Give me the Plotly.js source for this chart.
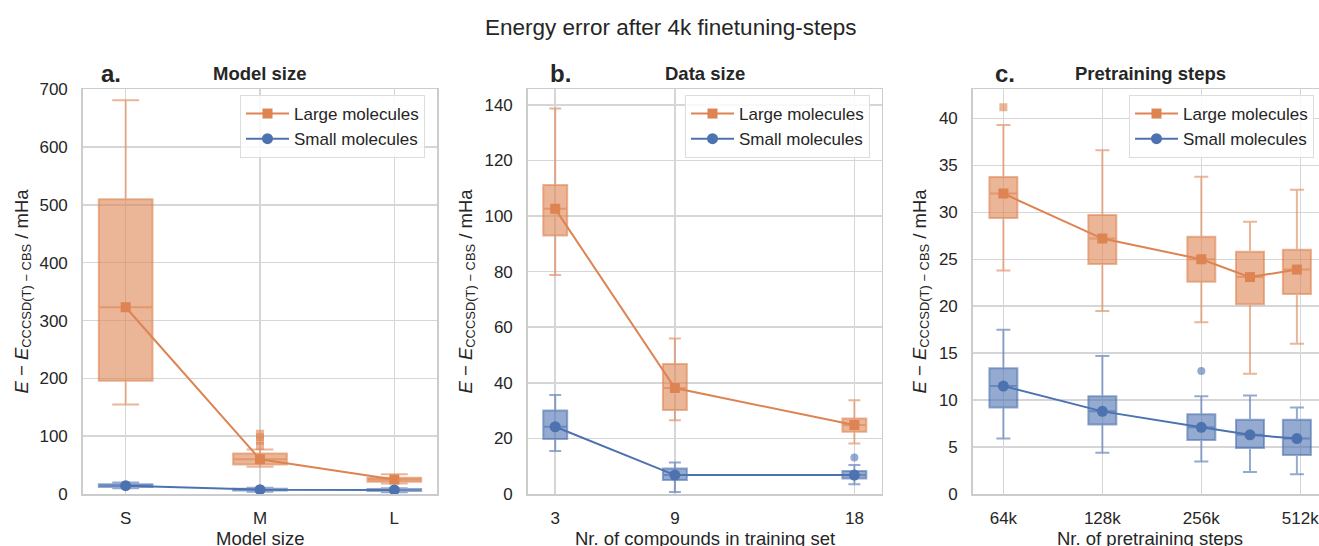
<!DOCTYPE html>
<html>
<head>
<meta charset="utf-8">
<script src="https://cdn.plot.ly/plotly-3.0.1.min.js"></script>
<style>
html,body{margin:0;padding:0;background:#fff;overflow:hidden;width:1319px;height:546px;}
#chart{width:1330px;height:546px;}
</style>
</head>
<body>
<div id="chart"></div>
<script>
// ---------- Data ----------
// Panel a: Model size
const catA = ['S', 'M', 'L'];
const aLargeLow  = [155, 47, 18];
const aLargeQ1   = [196, 51, 21];
const aLargeMed  = [323, 60, 25];
const aLargeQ3   = [510, 70, 28];
const aLargeHigh = [681, 77, 34];
const aLargeOutX = ['M', 'M', 'M', 'M'];
const aLargeOutY = [83, 92, 98, 104];
const aSmallLow  = [10, 4, 3];
const aSmallQ1   = [12, 6, 5];
const aSmallMed  = [14.4, 7.5, 7];
const aSmallQ3   = [17, 9, 8.5];
const aSmallHigh = [20, 11, 10];

// Panel b: Data size
const compoundsB = [3, 9, 18];
const bLargeLow  = [78.8, 26.5, 18.2];
const bLargeQ1   = [93, 30.2, 22.4];
const bLargeMed  = [102.6, 38.1, 24.8];
const bLargeQ3   = [111.2, 46.8, 27.2];
const bLargeHigh = [138.7, 55.9, 33.7];
const bSmallLow  = [15.5, 0.7, 3.5];
const bSmallQ1   = [19.8, 5.0, 5.6];
const bSmallMed  = [24.2, 6.8, 6.8];
const bSmallQ3   = [30.0, 9.2, 8.3];
const bSmallHigh = [35.6, 11.3, 10.4];
const bSmallOutX = [18];
const bSmallOutY = [13.1];

// Panel c: Pretraining steps
const stepsC = [64000, 128000, 256000, 360000, 500000];
const tickStepsC = [64000, 128000, 256000, 512000];
const tickLabelsC = ['64k', '128k', '256k', '512k'];
const cLargeLow  = [23.8, 19.5, 18.3, 12.8, 16.0];
const cLargeQ1   = [29.4, 24.5, 22.6, 20.2, 21.3];
const cLargeMed  = [32.0, 27.2, 25.0, 23.1, 23.9];
const cLargeQ3   = [33.75, 29.7, 27.4, 25.8, 26.0];
const cLargeHigh = [39.3, 36.6, 33.8, 29.0, 32.4];
const cLargeOutX = [64000];
const cLargeOutY = [41.2];
const cSmallLow  = [5.9, 4.4, 3.45, 2.35, 2.1];
const cSmallQ1   = [9.2, 7.4, 5.75, 4.9, 4.15];
const cSmallMed  = [11.5, 8.8, 7.1, 6.3, 5.9];
const cSmallQ3   = [13.4, 10.4, 8.5, 7.9, 7.9];
const cSmallHigh = [17.5, 14.7, 10.4, 10.5, 9.2];
const cSmallOutX = [256000];
const cSmallOutY = [13.1];

// ---------- Styling ----------
const W = 1330, H = 546;
const ORANGE = '#DD8452', BLUE = '#4C72B0';
const ORANGE_A = 'rgba(221,132,82,0.6)', BLUE_A = 'rgba(76,114,176,0.6)';
const FONT = 'Liberation Sans, Arial, Helvetica, sans-serif';
const TXT = '#262626';
const GRID = '#d6d6d6';
const px = x => x / W;
const py = y => 1 - y / H;
const log2c = v => Math.log2(v / stepsC[0]);

const cx = stepsC.map(log2c);
const cOutLX = cLargeOutX.map(log2c);
const cOutSX = cSmallOutX.map(log2c);

function box(x, lo, q1, med, q3, hi, color, fill, width, xa, ya) {
  return {
    type: 'box', x: x, q1: q1, median: med, q3: q3, lowerfence: lo, upperfence: hi,
    width: width, whiskerwidth: 0.5, boxpoints: false,
    line: {color: color, width: 2}, fillcolor: fill,
    xaxis: xa, yaxis: ya, showlegend: false, hoverinfo: 'skip'
  };
}
function outl(x, y, color, symbol, size, xa, ya) {
  return {type: 'scatter', mode: 'markers', x: x, y: y, xaxis: xa, yaxis: ya,
    marker: {color: color, symbol: symbol, size: size}, showlegend: false, hoverinfo: 'skip'};
}
function line(x, y, name, color, symbol, size, xa, ya, leg) {
  return {type: 'scatter', mode: 'lines+markers', x: x, y: y, name: name,
    line: {color: color, width: 2}, marker: {color: color, symbol: symbol, size: size},
    xaxis: xa, yaxis: ya, legend: leg, showlegend: true};
}

const traces = [
  // panel a
  box(catA, aLargeLow, aLargeQ1, aLargeMed, aLargeQ3, aLargeHigh, ORANGE_A, ORANGE_A, 0.4, 'x', 'y'),
  box(catA, aSmallLow, aSmallQ1, aSmallMed, aSmallQ3, aSmallHigh, BLUE_A, BLUE_A, 0.4, 'x', 'y'),
  outl(aLargeOutX, aLargeOutY, ORANGE_A, 'square', 8, 'x', 'y'),
  line(catA, aLargeMed, 'Large molecules', ORANGE, 'square', 10, 'x', 'y', 'legend'),
  line(catA, aSmallMed, 'Small molecules', BLUE, 'circle', 11, 'x', 'y', 'legend'),
  // panel b
  box(compoundsB, bLargeLow, bLargeQ1, bLargeMed, bLargeQ3, bLargeHigh, ORANGE_A, ORANGE_A, 1.2, 'x2', 'y2'),
  box(compoundsB, bSmallLow, bSmallQ1, bSmallMed, bSmallQ3, bSmallHigh, BLUE_A, BLUE_A, 1.2, 'x2', 'y2'),
  outl(bSmallOutX, bSmallOutY, BLUE_A, 'circle', 8, 'x2', 'y2'),
  line(compoundsB, bLargeMed, 'Large molecules', ORANGE, 'square', 10, 'x2', 'y2', 'legend2'),
  line(compoundsB, bSmallMed, 'Small molecules', BLUE, 'circle', 11, 'x2', 'y2', 'legend2'),
  // panel c
  box(cx, cLargeLow, cLargeQ1, cLargeMed, cLargeQ3, cLargeHigh, ORANGE_A, ORANGE_A, 0.283, 'x3', 'y3'),
  box(cx, cSmallLow, cSmallQ1, cSmallMed, cSmallQ3, cSmallHigh, BLUE_A, BLUE_A, 0.283, 'x3', 'y3'),
  outl(cOutLX, cLargeOutY, ORANGE_A, 'square', 8, 'x3', 'y3'),
  outl(cOutSX, cSmallOutY, BLUE_A, 'circle', 8, 'x3', 'y3'),
  line(cx, cLargeMed, 'Large molecules', ORANGE, 'square', 10, 'x3', 'y3', 'legend3'),
  line(cx, cSmallMed, 'Small molecules', BLUE, 'circle', 11, 'x3', 'y3', 'legend3'),
];

const yDom = [py(494), py(89.3)];
function xax(dom, extra) {
  return Object.assign({
    domain: dom, showline: true, mirror: true, linecolor: '#cccccc', linewidth: 1.5,
    showgrid: true, gridcolor: GRID, gridwidth: 1.5, zeroline: false,
    ticks: 'outside', ticklen: 8, tickcolor: 'rgba(0,0,0,0)',
    tickfont: {family: FONT, size: 17, color: TXT}, fixedrange: true
  }, extra);
}
function yax(anchor, range, dtick) {
  return {
    domain: yDom, anchor: anchor, range: range, dtick: dtick, tick0: 0,
    showline: true, mirror: true, linecolor: '#cccccc', linewidth: 1.5,
    showgrid: true, gridcolor: GRID, gridwidth: 1.5, zeroline: false,
    ticks: 'outside', ticklen: 10, tickcolor: 'rgba(0,0,0,0)',
    tickfont: {family: FONT, size: 17, color: TXT}, fixedrange: true
  };
}
function legend(left) {
  return {x: px(left), xanchor: 'left', y: py(95), yanchor: 'top',
    bgcolor: 'rgba(255,255,255,0.85)', bordercolor: '#dddddd', borderwidth: 1,
    itemwidth: 43,
    font: {family: FONT, size: 17, color: TXT}, traceorder: 'normal'};
}

const ytitle = '<i>E</i> − <i>E</i><sub>CCCSD(T) − CBS</sub> / mHa';
function ann(text, x, y, size, opts) {
  return Object.assign({text: text, x: px(x), y: py(y), xref: 'paper', yref: 'paper',
    showarrow: false, xanchor: 'center', yanchor: 'middle',
    font: {family: FONT, size: size, color: TXT}}, opts || {});
}

const layout = {
  width: W, height: H, margin: {l: 0, r: 0, t: 0, b: 0},
  paper_bgcolor: '#ffffff', plot_bgcolor: '#ffffff',
  boxmode: 'overlay', showlegend: true,
  xaxis: xax([px(82.7), px(437.3)], {type: 'category', range: [-0.32, 2.32], anchor: 'y'}),
  yaxis: yax('x', [0, 700], 100),
  xaxis2: xax([px(527.7), px(881.7)], {range: [1.62, 19.37], tickvals: compoundsB, anchor: 'y2'}),
  yaxis2: yax('x2', [0, 145.6], 20),
  xaxis3: xax([px(972.7), px(1327)], {range: [-0.31, 3.27], tickvals: tickStepsC.map(log2c), ticktext: tickLabelsC, anchor: 'y3'}),
  yaxis3: yax('x3', [0, 43.1], 5),
  legend: legend(240),
  legend2: legend(685),
  legend3: legend(1129),
  annotations: [
    ann('Energy error after 4k finetuning-steps', 670, 27, 22.5),
    ann('<b>Model size</b>', 260, 74, 18.5),
    ann('<b>Data size</b>', 705, 74, 18.5),
    ann('<b>Pretraining steps</b>', 1150, 74, 18.5),
    ann('<b>a.</b>', 111, 74, 24),
    ann('<b>b.</b>', 560, 74, 24),
    ann('<b>c.</b>', 1005, 74, 24),
    ann(ytitle, 22, 291.5, 18.5, {textangle: -90}),
    ann(ytitle, 466, 291.5, 18.5, {textangle: -90}),
    ann(ytitle, 920, 291.5, 18.5, {textangle: -90}),
    ann('Model size', 260, 538, 18.5),
    ann('Nr. of compounds in training set', 705, 538, 18.5),
    ann('Nr. of pretraining steps', 1150, 538, 18.5),
  ]
};

Plotly.newPlot('chart', traces, layout, {displayModeBar: false, staticPlot: true});
</script>
</body>
</html>
